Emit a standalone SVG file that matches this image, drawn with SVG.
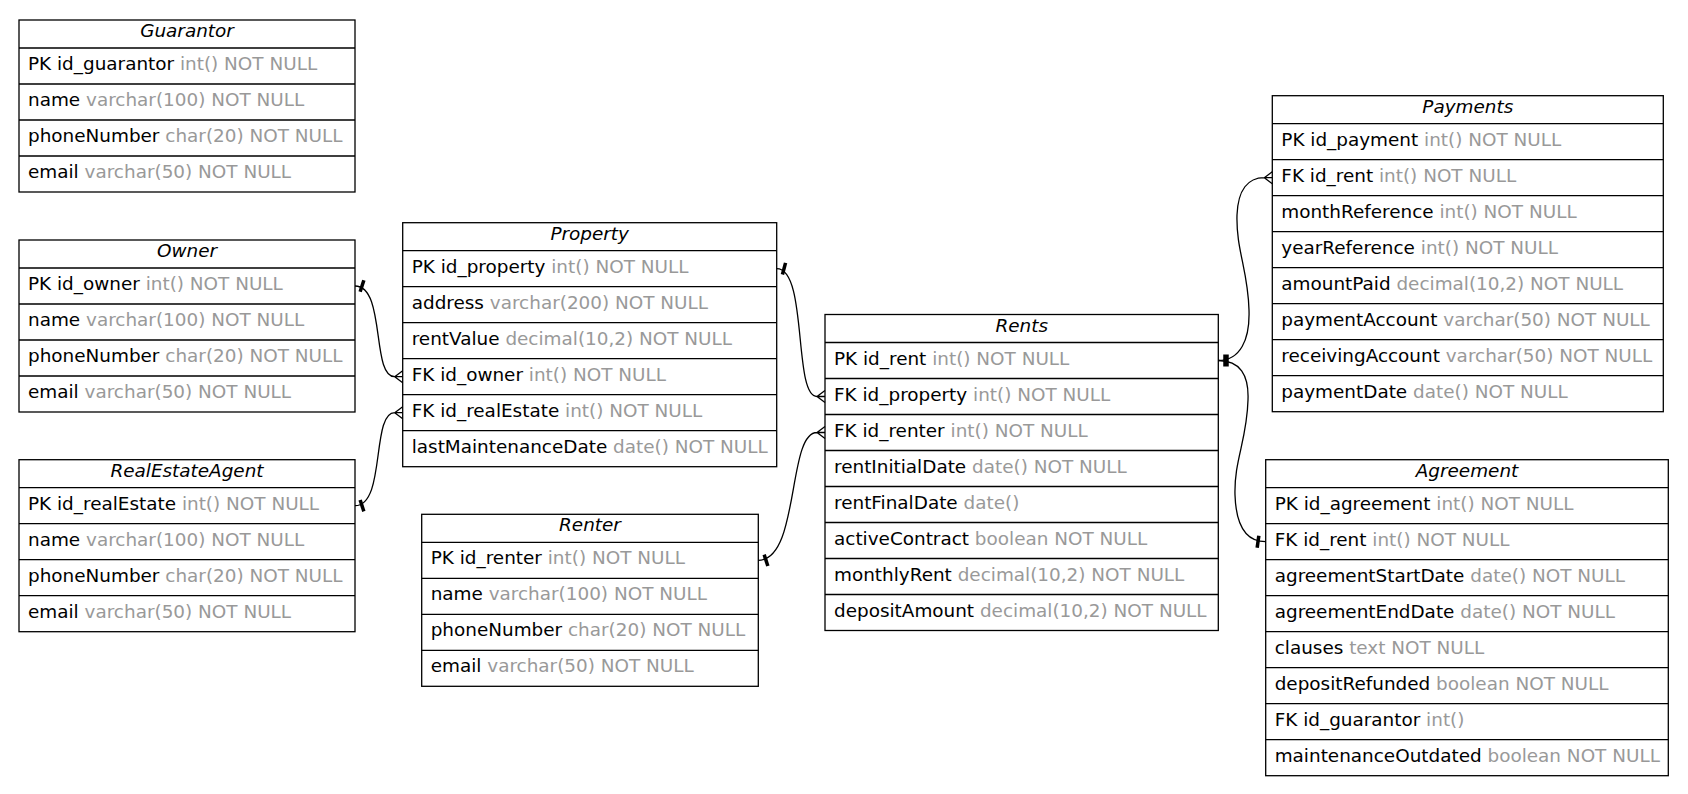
<svg xmlns="http://www.w3.org/2000/svg" width="1688" height="794" viewBox="0 0 1688 794">
<style>
.box{fill:#fff;stroke:#000;stroke-width:1.3}
.sep{stroke:#000;stroke-width:1.3}
text{font-family:"DejaVu Sans","Noto Sans",sans-serif;font-size:18.4px;fill:#000}
.h{font-style:italic;text-anchor:middle}
.t{fill:#999}
.e{fill:none;stroke:#000;stroke-width:1.3}
.tee{stroke:#000;stroke-width:3.5;fill:none}
</style>
<rect width="1688" height="794" fill="#fff"/>

<g id="Guarantor">
<rect class="box" x="19" y="20" width="336" height="172"/>
<path class="sep" d="M19,48H355M19,84H355M19,120H355M19,156H355"/>
<text class="h" x="187" y="37">Guarantor</text>
<text x="28" y="70">PK id_guarantor<tspan class="t"> int() NOT NULL</tspan></text>
<text x="28" y="106">name<tspan class="t"> varchar(100) NOT NULL</tspan></text>
<text x="28" y="142">phoneNumber<tspan class="t"> char(20) NOT NULL</tspan></text>
<text x="28" y="178">email<tspan class="t"> varchar(50) NOT NULL</tspan></text>
</g>

<g id="Owner">
<rect class="box" x="19" y="240" width="336" height="172"/>
<path class="sep" d="M19,268H355M19,304H355M19,340H355M19,376H355"/>
<text class="h" x="187" y="257">Owner</text>
<text x="28" y="290">PK id_owner<tspan class="t"> int() NOT NULL</tspan></text>
<text x="28" y="326">name<tspan class="t"> varchar(100) NOT NULL</tspan></text>
<text x="28" y="362">phoneNumber<tspan class="t"> char(20) NOT NULL</tspan></text>
<text x="28" y="398">email<tspan class="t"> varchar(50) NOT NULL</tspan></text>
</g>

<g id="RealEstateAgent">
<rect class="box" x="19" y="459.7" width="336" height="172"/>
<path class="sep" d="M19,487.7H355M19,523.7H355M19,559.7H355M19,595.7H355"/>
<text class="h" x="187" y="476.7">RealEstateAgent</text>
<text x="28" y="509.7">PK id_realEstate<tspan class="t"> int() NOT NULL</tspan></text>
<text x="28" y="545.7">name<tspan class="t"> varchar(100) NOT NULL</tspan></text>
<text x="28" y="581.7">phoneNumber<tspan class="t"> char(20) NOT NULL</tspan></text>
<text x="28" y="617.7">email<tspan class="t"> varchar(50) NOT NULL</tspan></text>
</g>

<g id="Property">
<rect class="box" x="402.7" y="222.7" width="374" height="244"/>
<path class="sep" d="M402.7,250.7H776.7M402.7,286.7H776.7M402.7,322.7H776.7M402.7,358.7H776.7M402.7,394.7H776.7M402.7,430.7H776.7"/>
<text class="h" x="589.7" y="239.7">Property</text>
<text x="411.7" y="272.7">PK id_property<tspan class="t"> int() NOT NULL</tspan></text>
<text x="411.7" y="308.7">address<tspan class="t"> varchar(200) NOT NULL</tspan></text>
<text x="411.7" y="344.7">rentValue<tspan class="t"> decimal(10,2) NOT NULL</tspan></text>
<text x="411.7" y="380.7">FK id_owner<tspan class="t"> int() NOT NULL</tspan></text>
<text x="411.7" y="416.7">FK id_realEstate<tspan class="t"> int() NOT NULL</tspan></text>
<text x="411.7" y="452.7">lastMaintenanceDate<tspan class="t"> date() NOT NULL</tspan></text>
</g>

<g id="Renter">
<rect class="box" x="421.7" y="514.3" width="336.6" height="172"/>
<path class="sep" d="M421.7,542.3H758.3M421.7,578.3H758.3M421.7,614.3H758.3M421.7,650.3H758.3"/>
<text class="h" x="590" y="531.3">Renter</text>
<text x="430.7" y="564.3">PK id_renter<tspan class="t"> int() NOT NULL</tspan></text>
<text x="430.7" y="600.3">name<tspan class="t"> varchar(100) NOT NULL</tspan></text>
<text x="430.7" y="636.3">phoneNumber<tspan class="t"> char(20) NOT NULL</tspan></text>
<text x="430.7" y="672.3">email<tspan class="t"> varchar(50) NOT NULL</tspan></text>
</g>

<g id="Rents">
<rect class="box" x="825" y="314.5" width="393.3" height="316"/>
<path class="sep" d="M825,342.5H1218.3M825,378.5H1218.3M825,414.5H1218.3M825,450.5H1218.3M825,486.5H1218.3M825,522.5H1218.3M825,558.5H1218.3M825,594.5H1218.3"/>
<text class="h" x="1021.7" y="331.5">Rents</text>
<text x="834" y="364.5">PK id_rent<tspan class="t"> int() NOT NULL</tspan></text>
<text x="834" y="400.5">FK id_property<tspan class="t"> int() NOT NULL</tspan></text>
<text x="834" y="436.5">FK id_renter<tspan class="t"> int() NOT NULL</tspan></text>
<text x="834" y="472.5">rentInitialDate<tspan class="t"> date() NOT NULL</tspan></text>
<text x="834" y="508.5">rentFinalDate<tspan class="t"> date()</tspan></text>
<text x="834" y="544.5">activeContract<tspan class="t"> boolean NOT NULL</tspan></text>
<text x="834" y="580.5">monthlyRent<tspan class="t"> decimal(10,2) NOT NULL</tspan></text>
<text x="834" y="616.5">depositAmount<tspan class="t"> decimal(10,2) NOT NULL</tspan></text>
</g>

<g id="Payments">
<rect class="box" x="1272.3" y="95.7" width="391" height="316"/>
<path class="sep" d="M1272.3,123.7H1663.3M1272.3,159.7H1663.3M1272.3,195.7H1663.3M1272.3,231.7H1663.3M1272.3,267.7H1663.3M1272.3,303.7H1663.3M1272.3,339.7H1663.3M1272.3,375.7H1663.3"/>
<text class="h" x="1467.8" y="112.7">Payments</text>
<text x="1281.3" y="145.7">PK id_payment<tspan class="t"> int() NOT NULL</tspan></text>
<text x="1281.3" y="181.7">FK id_rent<tspan class="t"> int() NOT NULL</tspan></text>
<text x="1281.3" y="217.7">monthReference<tspan class="t"> int() NOT NULL</tspan></text>
<text x="1281.3" y="253.7">yearReference<tspan class="t"> int() NOT NULL</tspan></text>
<text x="1281.3" y="289.7">amountPaid<tspan class="t"> decimal(10,2) NOT NULL</tspan></text>
<text x="1281.3" y="325.7">paymentAccount<tspan class="t"> varchar(50) NOT NULL</tspan></text>
<text x="1281.3" y="361.7">receivingAccount<tspan class="t"> varchar(50) NOT NULL</tspan></text>
<text x="1281.3" y="397.7">paymentDate<tspan class="t"> date() NOT NULL</tspan></text>
</g>

<g id="Agreement">
<rect class="box" x="1265.7" y="459.7" width="402.6" height="316"/>
<path class="sep" d="M1265.7,487.7H1668.3M1265.7,523.7H1668.3M1265.7,559.7H1668.3M1265.7,595.7H1668.3M1265.7,631.7H1668.3M1265.7,667.7H1668.3M1265.7,703.7H1668.3M1265.7,739.7H1668.3"/>
<text class="h" x="1467" y="476.7">Agreement</text>
<text x="1274.7" y="509.7">PK id_agreement<tspan class="t"> int() NOT NULL</tspan></text>
<text x="1274.7" y="545.7">FK id_rent<tspan class="t"> int() NOT NULL</tspan></text>
<text x="1274.7" y="581.7">agreementStartDate<tspan class="t"> date() NOT NULL</tspan></text>
<text x="1274.7" y="617.7">agreementEndDate<tspan class="t"> date() NOT NULL</tspan></text>
<text x="1274.7" y="653.7">clauses<tspan class="t"> text NOT NULL</tspan></text>
<text x="1274.7" y="689.7">depositRefunded<tspan class="t"> boolean NOT NULL</tspan></text>
<text x="1274.7" y="725.7">FK id_guarantor<tspan class="t"> int()</tspan></text>
<text x="1274.7" y="761.7">maintenanceOutdated<tspan class="t"> boolean NOT NULL</tspan></text>
</g>

<g id="connectors">
<path class="e" d="M355,286 C386,286 371,376.7 394.7,376.7 M394.7,376.7L402.7,376.7M394.7,376.7L402.7,370.7M394.7,376.7L402.7,382.7"/>
<path class="tee" d="M362,280V292" transform="rotate(18 362 286)"/>
<path class="e" d="M355,505.7 C386,505.7 371,412.7 394.7,412.7 M394.7,412.7L402.7,412.7M394.7,412.7L402.7,406.7M394.7,412.7L402.7,418.7"/>
<path class="tee" d="M362,499.7V511.7" transform="rotate(-18 362 505.7)"/>
<path class="e" d="M776.7,268.7 C808,268.7 793,396.5 817,396.5 M817,396.5L825,396.5M817,396.5L825,390.5M817,396.5L825,402.5"/>
<path class="tee" d="M784,262.7V274.7" transform="rotate(15 784 268.7)"/>
<path class="e" d="M758.3,560.3 C800,560.3 787,432.5 817,432.5 M817,432.5L825,432.5M817,432.5L825,426.5M817,432.5L825,438.5"/>
<path class="tee" d="M766,554.3V566.3" transform="rotate(-18 766 560.3)"/>
<path class="e" d="M1218.3,360.5 C1240,360.5 1250,340 1249,310 C1248,270 1236,250 1237,215 C1238,190 1248,177.7 1264.3,177.7 M1264.3,177.7L1272.3,177.7M1264.3,177.7L1272.3,171.7M1264.3,177.7L1272.3,183.7"/>
<path class="e" d="M1218.3,360.5 C1240,360.5 1249,375 1248,400 C1247,440 1234,460 1235,495 C1236,525 1245,541.7 1265.7,541.7"/>
<path class="tee" d="M1225,354.5V366.5M1227,354.5V366.5"/>
<path class="tee" d="M1258,535.7V547.7" transform="rotate(8 1258 541.7)"/>
</g>
</svg>
